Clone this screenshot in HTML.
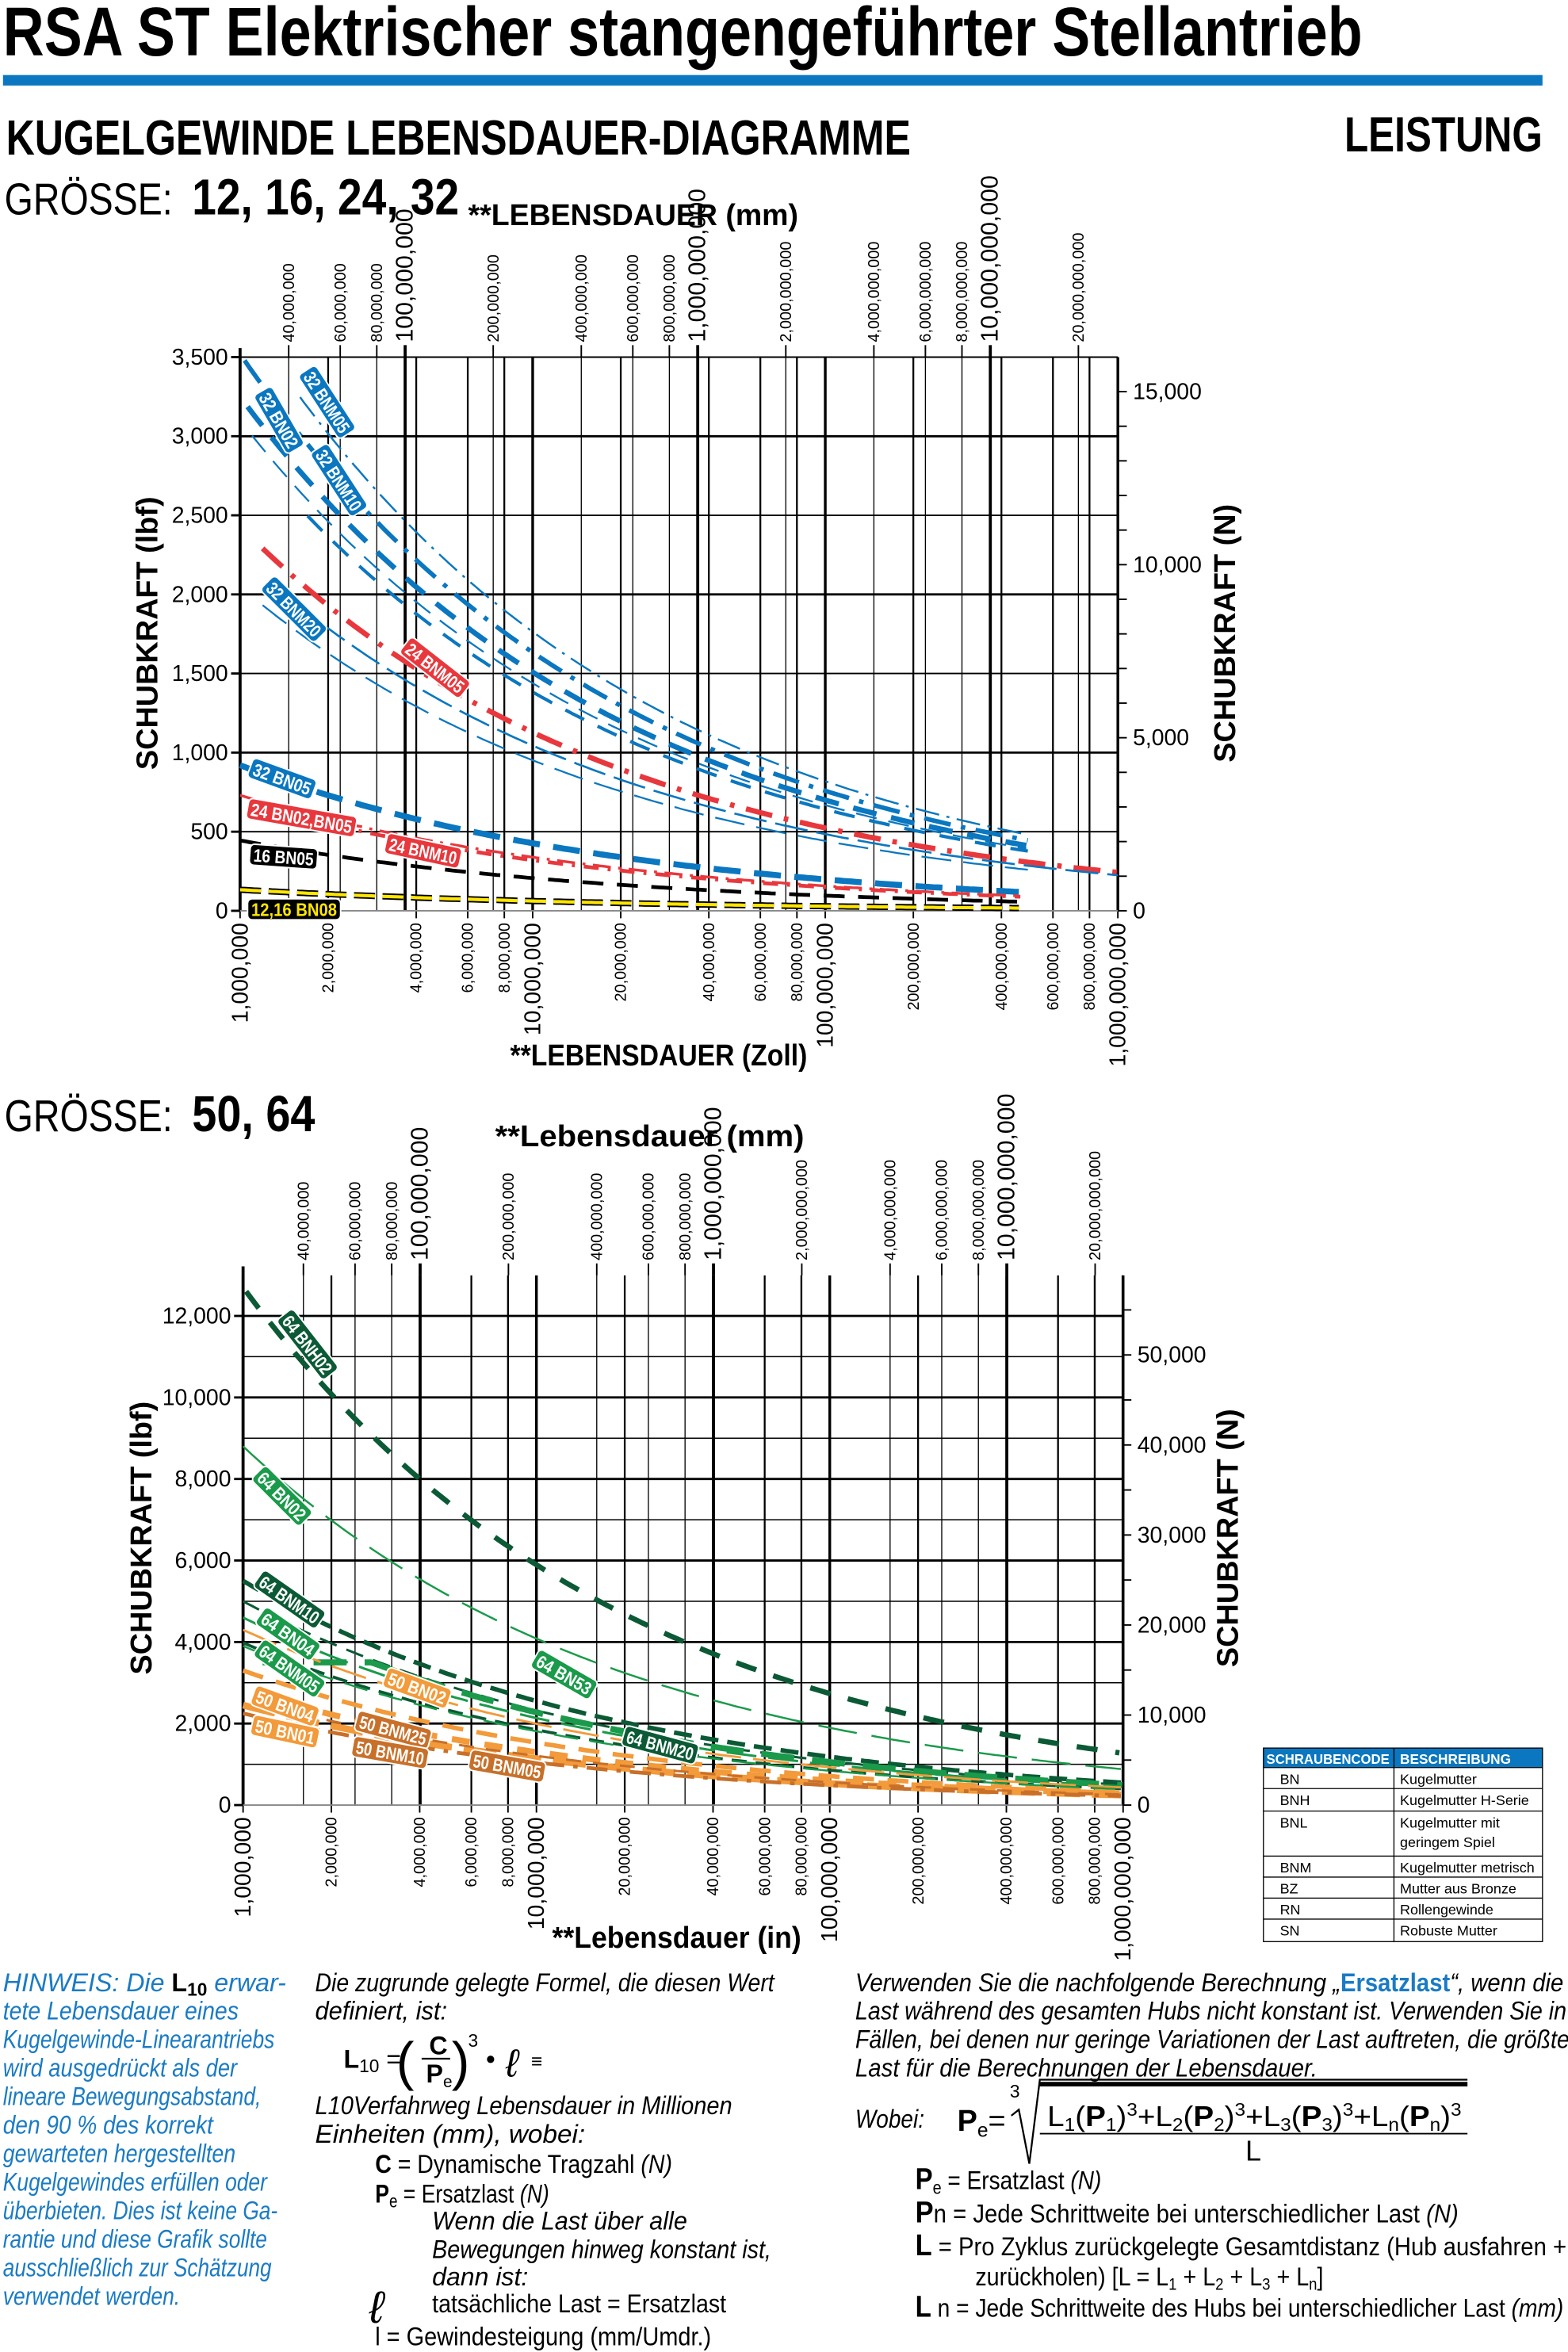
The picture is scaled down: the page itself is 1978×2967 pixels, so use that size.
<!DOCTYPE html>
<html><head><meta charset="utf-8"><style>
html,body{margin:0;padding:0;background:#fff}
svg{display:block}
text{font-family:"Liberation Sans Narrow","Liberation Sans",sans-serif}
</style></head><body>
<svg id="s" xmlns="http://www.w3.org/2000/svg" width="1978" height="2967" viewBox="0 0 1045 1567.5">
<rect width="1045" height="1567.5" fill="#fff"/>
<text x="2" y="37" font-size="46" font-weight="bold" textLength="906" lengthAdjust="spacingAndGlyphs">RSA ST Elektrischer stangengeführter Stellantrieb</text>
<rect x="2" y="50" width="1026" height="7" fill="#0a77c0"/>
<text x="4" y="103" font-size="33" font-weight="bold" textLength="603" lengthAdjust="spacingAndGlyphs">KUGELGEWINDE LEBENSDAUER-DIAGRAMME</text>
<text x="896" y="101" font-size="33" font-weight="bold" textLength="132" lengthAdjust="spacingAndGlyphs">LEISTUNG</text>
<text x="3" y="143" font-size="30" textLength="112" lengthAdjust="spacingAndGlyphs">GRÖSSE:</text>
<text x="128" y="143" font-size="34" font-weight="bold" textLength="178" lengthAdjust="spacingAndGlyphs">12, 16, 24, 32</text>
<text x="312" y="150" font-size="20" font-weight="bold" textLength="220" lengthAdjust="spacingAndGlyphs">**LEBENSDAUER   (mm)</text>
<text x="3" y="754" font-size="30" textLength="112" lengthAdjust="spacingAndGlyphs">GRÖSSE:</text>
<text x="128" y="754" font-size="34" font-weight="bold" textLength="82" lengthAdjust="spacingAndGlyphs">50, 64</text>
<text x="330" y="764" font-size="20" font-weight="bold" textLength="206" lengthAdjust="spacingAndGlyphs">**Lebensdauer   (mm)</text>
<text x="340" y="710" font-size="20" font-weight="bold" textLength="198" lengthAdjust="spacingAndGlyphs">**LEBENSDAUER (Zoll)</text>
<text x="368" y="1298" font-size="20" font-weight="bold" textLength="166" lengthAdjust="spacingAndGlyphs">**Lebensdauer (in)</text>
<g id="c1"></g><g id="c2"></g>
<g font-size="9.5">
<rect x="842" y="1165" width="186" height="13" fill="#0a77c0"/>
<text x="844" y="1175.5" fill="#fff" font-weight="bold" textLength="82" lengthAdjust="spacingAndGlyphs">SCHRAUBENCODE</text>
<text x="933" y="1175.5" fill="#fff" font-weight="bold" textLength="74" lengthAdjust="spacingAndGlyphs">BESCHREIBUNG</text>
<rect x="842" y="1165" width="186" height="129" fill="none" stroke="#000" stroke-width="0.7"/>
<line x1="929" y1="1165" x2="929" y2="1294" stroke="#000" stroke-width="0.7"/>
<g stroke="#000" stroke-width="0.7">
<line x1="842" y1="1178" x2="1028" y2="1178"/><line x1="842" y1="1192" x2="1028" y2="1192"/><line x1="842" y1="1207" x2="1028" y2="1207"/><line x1="842" y1="1237" x2="1028" y2="1237"/><line x1="842" y1="1251" x2="1028" y2="1251"/><line x1="842" y1="1265" x2="1028" y2="1265"/><line x1="842" y1="1279" x2="1028" y2="1279"/></g>
<text x="853" y="1189">BN</text><text x="933" y="1189">Kugelmutter</text>
<text x="853" y="1203">BNH</text><text x="933" y="1203">Kugelmutter H-Serie</text>
<text x="853" y="1218">BNL</text><text x="933" y="1218">Kugelmutter mit</text><text x="933" y="1231">geringem Spiel</text>
<text x="853" y="1248">BNM</text><text x="933" y="1248">Kugelmutter metrisch</text>
<text x="853" y="1262">BZ</text><text x="933" y="1262">Mutter aus Bronze</text>
<text x="853" y="1276">RN</text><text x="933" y="1276">Rollengewinde</text>
<text x="853" y="1290">SN</text><text x="933" y="1290">Robuste Mutter</text>
</g>
<g font-size="17" font-style="italic" fill="#1a7bc4">
<text x="2" y="1327">HINWEIS: Die <tspan fill="#000" font-weight="bold" font-style="normal">L<tspan font-size="12" dy="3">10</tspan></tspan><tspan dy="-3"> erwar-</tspan></text>
<text x="2" y="1346" textLength="157" lengthAdjust="spacingAndGlyphs">tete Lebensdauer eines</text>
<text x="2" y="1365" textLength="181" lengthAdjust="spacingAndGlyphs">Kugelgewinde-Linearantriebs</text>
<text x="2" y="1384" textLength="156" lengthAdjust="spacingAndGlyphs">wird ausgedrückt als der</text>
<text x="2" y="1403" textLength="172" lengthAdjust="spacingAndGlyphs">lineare Bewegungsabstand,</text>
<text x="2" y="1422" textLength="140" lengthAdjust="spacingAndGlyphs">den 90  % des korrekt</text>
<text x="2" y="1441" textLength="155" lengthAdjust="spacingAndGlyphs">gewarteten hergestellten</text>
<text x="2" y="1460" textLength="176" lengthAdjust="spacingAndGlyphs">Kugelgewindes erfüllen oder</text>
<text x="2" y="1479" textLength="183" lengthAdjust="spacingAndGlyphs">überbieten. Dies ist keine Ga-</text>
<text x="2" y="1498" textLength="176" lengthAdjust="spacingAndGlyphs">rantie und diese Grafik sollte</text>
<text x="2" y="1517" textLength="179" lengthAdjust="spacingAndGlyphs">ausschließlich zur Schätzung</text>
<text x="2" y="1536" textLength="118" lengthAdjust="spacingAndGlyphs">verwendet werden.</text>
</g>
<g font-size="17">
<g font-style="italic">
<text x="210" y="1327" textLength="306" lengthAdjust="spacingAndGlyphs">Die zugrunde gelegte Formel, die diesen Wert</text>
<text x="210" y="1346" textLength="88" lengthAdjust="spacingAndGlyphs">definiert, ist:</text>
<text x="210" y="1409" textLength="278" lengthAdjust="spacingAndGlyphs">L10Verfahrweg Lebensdauer in Millionen</text>
<text x="210" y="1428" textLength="180" lengthAdjust="spacingAndGlyphs">Einheiten (mm), wobei:</text>
<text x="288" y="1486" textLength="170" lengthAdjust="spacingAndGlyphs">Wenn die Last über alle</text>
<text x="288" y="1505" textLength="226" lengthAdjust="spacingAndGlyphs">Bewegungen hinweg konstant ist,</text>
<text x="288" y="1523" textLength="64" lengthAdjust="spacingAndGlyphs">dann ist:</text>
</g>
<text x="229" y="1378" font-weight="bold">L<tspan font-size="12" font-weight="normal" dy="3">10</tspan><tspan dy="-3" font-weight="normal"> =</tspan></text>
<text x="264" y="1386" font-size="36" font-weight="100">(</text>
<text x="286" y="1369" font-weight="bold">C</text>
<line x1="281" y1="1372" x2="300" y2="1372" stroke="#000" stroke-width="1.2"/>
<text x="284" y="1388" font-weight="bold">P<tspan font-size="11" font-weight="normal" dy="3">e</tspan></text>
<text x="301" y="1386" font-size="36" font-weight="100">)</text>
<text x="312" y="1364" font-size="12">3</text>
<text x="324" y="1378" font-weight="bold">•</text>
<text x="337" y="1384" font-size="26" font-style="italic" font-family="Liberation Serif">ℓ</text>
<text x="354" y="1378" font-size="13" font-weight="bold">≡</text>
<text x="250" y="1448" textLength="198" lengthAdjust="spacingAndGlyphs"><tspan font-weight="bold">C</tspan> = Dynamische Tragzahl <tspan font-style="italic">(N)</tspan></text>
<text x="250" y="1468" textLength="116" lengthAdjust="spacingAndGlyphs"><tspan font-weight="bold">P</tspan><tspan font-size="12" dy="3">e</tspan><tspan dy="-3"> = Ersatzlast </tspan><tspan font-style="italic">(N)</tspan></text>
<text x="246" y="1548" font-size="30" font-style="italic" font-family="Liberation Serif">ℓ</text>
<text x="288" y="1541" textLength="196" lengthAdjust="spacingAndGlyphs">tatsächliche Last = Ersatzlast</text>
<text x="250" y="1563" textLength="224" lengthAdjust="spacingAndGlyphs">l = Gewindesteigung (mm/Umdr.)</text>
<g font-style="italic">
<text x="570" y="1327" textLength="472" lengthAdjust="spacingAndGlyphs">Verwenden Sie die nachfolgende Berechnung „<tspan fill="#1a7bc4" font-weight="bold" font-style="normal">Ersatzlast</tspan>“, wenn die</text>
<text x="570" y="1346" textLength="474" lengthAdjust="spacingAndGlyphs">Last während des gesamten Hubs nicht konstant ist. Verwenden Sie in</text>
<text x="570" y="1365" textLength="476" lengthAdjust="spacingAndGlyphs">Fällen, bei denen nur geringe Variationen der Last auftreten, die größte</text>
<text x="570" y="1384" textLength="308" lengthAdjust="spacingAndGlyphs">Last für die Berechnungen der Lebensdauer.</text>
<text x="570" y="1418" textLength="46" lengthAdjust="spacingAndGlyphs">Wobei:</text>
</g>
<text x="638" y="1420" font-size="20" font-weight="bold">P<tspan font-size="13" font-weight="normal" dy="4">e</tspan><tspan dy="-4" font-weight="normal">=</tspan></text>
<text x="673" y="1398" font-size="12">3</text>
<polyline points="674,1410 679,1406 686,1442 693,1386 978,1386" fill="none" stroke="#000" stroke-width="1.2"/>
<line x1="693" y1="1389" x2="978" y2="1389" stroke="#000" stroke-width="3"/>
<text x="698" y="1417" font-size="19" textLength="276" lengthAdjust="spacingAndGlyphs">L<tspan font-size="12" dy="3">1</tspan><tspan dy="-3">(</tspan><tspan font-weight="bold">P</tspan><tspan font-size="12" dy="3">1</tspan><tspan dy="-3">)</tspan><tspan font-size="12" dy="-7">3</tspan><tspan dy="7">+L</tspan><tspan font-size="12" dy="3">2</tspan><tspan dy="-3">(</tspan><tspan font-weight="bold">P</tspan><tspan font-size="12" dy="3">2</tspan><tspan dy="-3">)</tspan><tspan font-size="12" dy="-7">3</tspan><tspan dy="7">+L</tspan><tspan font-size="12" dy="3">3</tspan><tspan dy="-3">(</tspan><tspan font-weight="bold">P</tspan><tspan font-size="12" dy="3">3</tspan><tspan dy="-3">)</tspan><tspan font-size="12" dy="-7">3</tspan><tspan dy="7">+L</tspan><tspan font-size="12" dy="3">n</tspan><tspan dy="-3">(</tspan><tspan font-weight="bold">P</tspan><tspan font-size="12" dy="3">n</tspan><tspan dy="-3">)</tspan><tspan font-size="12" dy="-7">3</tspan></text>
<line x1="693" y1="1422" x2="978" y2="1422" stroke="#000" stroke-width="1"/>
<text x="830" y="1440" font-size="19">L</text>
<text x="610" y="1459" textLength="124" lengthAdjust="spacingAndGlyphs"><tspan font-weight="bold" font-size="20">P</tspan><tspan font-size="12" dy="3">e</tspan><tspan dy="-3"> = Ersatzlast </tspan><tspan font-style="italic">(N)</tspan></text>
<text x="610" y="1481" textLength="362" lengthAdjust="spacingAndGlyphs"><tspan font-weight="bold" font-size="20">P</tspan>n  = Jede Schrittweite bei unterschiedlicher Last <tspan font-style="italic">(N)</tspan></text>
<text x="610" y="1503" textLength="434" lengthAdjust="spacingAndGlyphs"><tspan font-weight="bold" font-size="20">L</tspan>   = Pro Zyklus zurückgelegte Gesamtdistanz (Hub ausfahren +</text>
<text x="650" y="1523" textLength="232" lengthAdjust="spacingAndGlyphs">zurückholen) [L = L<tspan font-size="11" dy="3">1</tspan><tspan dy="-3"> + L</tspan><tspan font-size="11" dy="3">2</tspan><tspan dy="-3"> + L</tspan><tspan font-size="11" dy="3">3</tspan><tspan dy="-3"> + L</tspan><tspan font-size="11" dy="3">n</tspan><tspan dy="-3">]</tspan></text>
<text x="610" y="1544" textLength="432" lengthAdjust="spacingAndGlyphs"><tspan font-weight="bold" font-size="20">L</tspan> n = Jede Schrittweite des Hubs bei unterschiedlicher Last <tspan font-style="italic">(mm)</tspan></text>
</g>
</svg>
<script>
var NS="http://www.w3.org/2000/svg";
function el(p,tag,a,txt){var e=document.createElementNS(NS,tag);for(var k in a)e.setAttribute(k,a[k]);if(txt!=null)e.textContent=txt;p.appendChild(e);return e;}
function fmt(n){return n.toLocaleString('en-US');}
var lg=Math.log10;
function chart(g,o){
  var L=o.L,R=o.R,T=o.T,B=o.B,dec=o.dec;
  var X=function(v){return L+dec*lg(v/1e6);};
  var Xt=function(m){return o.xt0+dec*lg(m/1e8);};
  o.hgrid.forEach(function(h){var y=B-h[0]*o.ys;el(g,'line',{x1:L,y1:y,x2:R,y2:y,stroke:'#000','stroke-width':h[1]});});
  [1e6,2e6,4e6,6e6,8e6,1e7,2e7,4e7,6e7,8e7,1e8,2e8,4e8,6e8,8e8,1e9].forEach(function(v){
    var x=X(v);var d=Math.abs(lg(v)%1)<1e-6;
    el(g,'line',{x1:x,y1:T,x2:x,y2:B,stroke:'#000','stroke-width':d?1.8:1.2});
    var big=d;var ty=B+8;
    el(g,'text',{x:0,y:0,'font-size':big?15:10.5,'text-anchor':'end',transform:'translate('+(x+(big?5:3.5))+','+ty+') rotate(-90)'},fmt(v));
    el(g,'line',{x1:x,y1:B,x2:x,y2:B+5,stroke:'#000','stroke-width':1});
  });
  [4e7,6e7,8e7,1e8,2e8,4e8,6e8,8e8,1e9,2e9,4e9,6e9,8e9,1e10,2e10].forEach(function(m){
    var x=Xt(m);var d=Math.abs(lg(m)%1)<1e-6;
    if(x>L&&x<R) el(g,'line',{x1:x,y1:T,x2:x,y2:B,stroke:'#000','stroke-width':d?2:0.7});
    el(g,'line',{x1:x,y1:T-8,x2:x,y2:T,stroke:'#000','stroke-width':d?2:1});
    el(g,'text',{x:0,y:0,'font-size':d?16:10.5,transform:'translate('+(x+(d?5:3.5))+','+(T-10)+') rotate(-90)'},fmt(m));
  });
  el(g,'line',{x1:L,y1:T-6,x2:L,y2:B,stroke:'#000','stroke-width':2});
  el(g,'line',{x1:R,y1:T,x2:R,y2:B,stroke:'#000','stroke-width':1});
  el(g,'line',{x1:L,y1:B,x2:R,y2:B,stroke:'#888','stroke-width':1});
  o.yl.forEach(function(v){var y=B-v*o.ys;el(g,'line',{x1:L-6,y1:y,x2:L,y2:y,stroke:'#000','stroke-width':1.5});
    el(g,'text',{x:L-8,y:y+5,'font-size':15,'text-anchor':'end'},fmt(v));});
  for(var n=0;n<=o.nmax;n+=o.nstep){var y=B-n*o.ns;el(g,'line',{x1:R,y1:y,x2:R+6,y2:y,stroke:'#000','stroke-width':1});}
  o.yr.forEach(function(v){var y=B-v*o.ns;el(g,'text',{x:R+10,y:y+5,'font-size':15},fmt(v));});
  el(g,'text',{x:0,y:0,'font-size':20,'font-weight':'bold','text-anchor':'middle',transform:'translate('+o.ylx+','+o.ymid+') rotate(-90)'},'SCHUBKRAFT (lbf)');
  el(g,'text',{x:0,y:0,'font-size':20,'font-weight':'bold','text-anchor':'middle',transform:'translate('+o.yrx+','+o.ymid+') rotate(-90)'},'SCHUBKRAFT (N)');
  o.series.forEach(function(s){
    var pts=[];for(var x=s[1];x<=s[2];x+=3){var f=s[0]*Math.pow(10,-(x-L)/(3*dec));
      if(s[6]!=null&&f>s[6])f=s[6];var y=B-f*o.ys;if(y<T-2)continue;pts.push(x.toFixed(1)+','+y.toFixed(1));}
    if(s[7]){el(g,'polyline',{points:pts.join(' '),fill:'none',stroke:'#000','stroke-width':s[4]+2,'stroke-dasharray':s[5]});}
    el(g,'polyline',{points:pts.join(' '),fill:'none',stroke:s[3],'stroke-width':s[4],'stroke-dasharray':s[5]});
  });
  o.badges.forEach(function(b){
    var gg=el(g,'g',{transform:'translate('+b[0]+','+b[1]+') rotate('+b[2]+')'});
    var w=b[3].length*5.6+6;
    el(gg,'rect',{x:-w/2,y:-7,width:w,height:14,rx:3,fill:b[4],stroke:'#fff','stroke-width':1});
    el(gg,'text',{x:0,y:4.5,'font-size':12,'font-weight':'bold',fill:b[5]||'#fff','text-anchor':'middle',textLength:w-5,lengthAdjust:'spacingAndGlyphs'},b[3]);
  });
}
var BL='#0a77c0',RD='#e8383d',GD='#0b5a35',GR='#1a9a4a',OR='#f39a3a',DO='#c8702a';
chart(document.getElementById('c1'),{L:160,R:745,T:238,B:607,dec:195,xt0:270,ys:369/3500,ns:346/15000,nmax:15000,nstep:1000,
 hgrid:[[500,1],[1000,1.5],[1500,1],[2000,1.5],[2500,1],[3000,1.5],[3500,1]],
 yl:[0,500,1000,1500,2000,2500,3000,3500],yr:[0,5000,10000,15000],ylx:105,yrx:823,ymid:422,
 series:[
  [3800,200,685,BL,1.3,'16 5 2 5'],
  [3520,160,685,BL,3,'18 7 3 7'],
  [3250,165,685,BL,3.5,'16 10'],
  [3100,168,685,BL,1.2,'14 8'],
  [2980,205,685,BL,2.2,'14 10'],
  [2050,175,685,BL,1.2,'20 8'],
  [2430,175,745,RD,3.5,'18 8 3 8'],
  [2250,190,745,BL,1.4,'22 6'],
  [920,160,680,BL,4,'18 9'],
  [730,160,680,RD,1.8,'12 5 2 5'],
  [690,200,680,RD,2.5,'10 6 2 6'],
  [445,160,680,'#000',2.5,'14 9'],
  [133,160,680,'#ffe600',2.2,'14 5',null,true]
 ],
 badges:[[218,268,57,'32 BNM05',BL],[186,280,60,'32 BN02',BL],[226,320,57,'32 BNM10',BL],[196,406,45,'32 BNM20',BL],
  [290,445,38,'24 BNM05',RD],[188,519,20,'32 BN05',BL],[201,545,10,'24 BN02,BN05',RD],[282,567,12,'24 BNM10',RD],
  [189,571,4,'16 BN05','#000'],[196,606,0,'12,16 BN08','#000','#ffe600']]
});
chart(document.getElementById('c2'),{L:162,R:748,T:850,B:1203,dec:195.5,xt0:280,ys:326/12000,ns:60/10000,nmax:55000,nstep:5000,
 hgrid:[[1000,0.8],[2000,1.5],[3000,0.8],[4000,1.5],[5000,0.8],[6000,1.5],[7000,0.8],[8000,1.5],[9000,0.8],[10000,1.5],[11000,0.8],[12000,1.5]],
 yl:[0,2000,4000,6000,8000,10000,12000],yr:[0,10000,20000,30000,40000,50000],ylx:101,yrx:825,ymid:1025,
 series:[
  [12700,164,748,GD,3.5,'14 12'],
  [8800,162,748,GR,1.3,'26 10'],
  [5500,162,748,GD,3,'12 6'],
  [5000,162,748,GD,1.6,'12 7'],
  [4600,162,748,GR,1.6,'20 8'],
  [3980,162,748,GD,2,'10 6'],
  [4900,175,748,GR,4,'22 12',3500],
  [4300,162,748,OR,1.5,'24 8'],
  [3300,162,748,OR,3,'14 9'],
  [3900,162,748,GR,1.3,'16 8'],
  [2450,162,748,OR,4.5,'22 8'],
  [2800,215,748,OR,4,'12 10'],
  [2250,162,748,DO,2.5,'14 6 3 6'],
  [2600,200,748,DO,1.6,'10 8']
 ],
 badges:[[205,896,52,'64 BNH02',GD],[188,997,45,'64 BN02',GR],[193,1066,35,'64 BNM10',GD],[192,1089,35,'64 BN04',GR],
  [193,1112,35,'64 BNM05',GR],[376,1116,30,'64 BN53',GR],[278,1125,20,'50 BN02',OR],[190,1137,20,'50 BN04',OR],
  [190,1154,12,'50 BN01',OR],[262,1153,15,'50 BNM25',DO],[260,1168,10,'50 BNM10',DO],[338,1177,10,'50 BNM05',DO],[440,1163,15,'64 BNM20',GD]]
});
</script>
</body></html>
